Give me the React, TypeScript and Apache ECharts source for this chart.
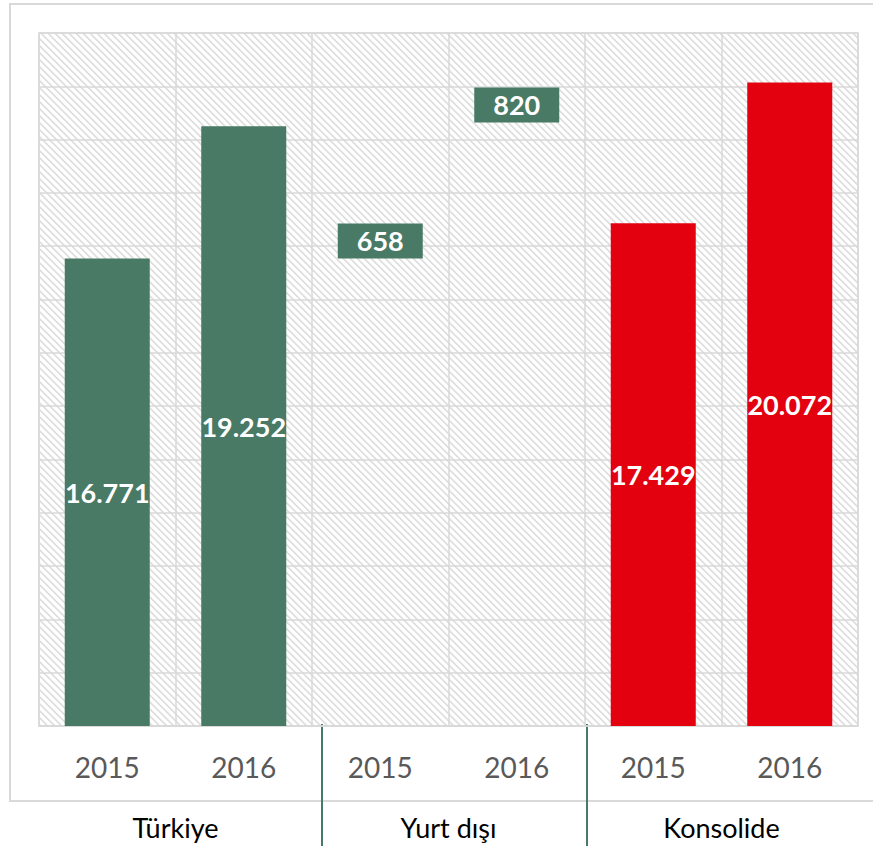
import React, { useEffect, useRef } from "react";
import * as echarts from "echarts";

const years = ["2015", "2016"];
const groups = ["Türkiye", "Yurt dışı", "Konsolide"];
const turkiye = [16771, 19252];
const yurtDisi = [658, 820];
const konsolide = [17429, 20072];
const axisMin = 8000;
const axisMax = 21000;
const axisStep = 1000;

const GREEN = "#497A65";
const RED = "#E3000F";
const GRID = "#D9D9D9";
const FONT = "Lato, 'Open Sans', sans-serif";

function fmt(v: number): string {
  return v.toLocaleString("de-DE");
}

function makeHatch(): HTMLCanvasElement {
  const n = 7;
  const c = document.createElement("canvas");
  c.width = n;
  c.height = n;
  const ctx = c.getContext("2d")!;
  const img = ctx.createImageData(n, n);
  for (let y = 0; y < n; y++) {
    for (let x = 0; x < n; x++) {
      const k = (((x - y) % n) + n) % n;
      const v = k < 2 ? 0xe0 : k === 2 ? 0xee : 0xff;
      const i = (y * n + x) * 4;
      img.data[i] = v;
      img.data[i + 1] = v;
      img.data[i + 2] = v;
      img.data[i + 3] = 255;
    }
  }
  ctx.putImageData(img, 0, 0);
  return c;
}

export default function App() {
  const ref = useRef<HTMLDivElement>(null);

  useEffect(() => {
    if (!ref.current) return;
    const chart = echarts.init(ref.current, undefined, { renderer: "svg" });

    const categories: string[] = [];
    groups.forEach(() => years.forEach((y) => categories.push(y)));

    const barData: any[] = [];
    turkiye.forEach((v) => barData.push({ value: v, itemStyle: { color: GREEN } }));
    yurtDisi.forEach(() => barData.push({ value: null }));
    konsolide.forEach((v) => barData.push({ value: v, itemStyle: { color: RED } }));

    // label anchors (vertical placement of the Yurt dışı callouts, in axis units)
    const yurtAnchors = [17100, 19650];
    const yurtLabels = yurtDisi.map((v, i) => ({
      value: [2 + i, yurtAnchors[i]],
      raw: v,
    }));

    chart.setOption({
      animation: false,
      backgroundColor: "#ffffff",
      textStyle: { fontFamily: FONT },
      grid: {
        left: 39,
        right: 15,
        top: 33,
        bottom: 120,
        show: true,
        backgroundColor: { image: makeHatch(), repeat: "repeat" } as any,
        borderColor: GRID,
        borderWidth: 1.5,
      },
      xAxis: [
        {
          type: "category",
          data: categories,
          axisLine: { show: true, lineStyle: { color: GRID, width: 1.5 } },
          axisTick: { show: false },
          splitLine: { show: true, lineStyle: { color: GRID, width: 1.5 } },
          axisLabel: {
            color: "#595959",
            fontSize: 28,
            fontFamily: FONT,
            margin: 27,
          },
        },
        {
          type: "category",
          data: groups,
          position: "bottom",
          axisLine: { show: false },
          axisTick: { show: false },
          splitLine: { show: false },
          axisLabel: {
            color: "#000000",
            fontSize: 27,
            fontFamily: FONT,
            margin: 88,
          },
        },
      ],
      yAxis: {
        type: "value",
        min: axisMin,
        max: axisMax,
        interval: axisStep,
        axisLabel: { show: false },
        axisLine: { show: false },
        axisTick: { show: false },
        splitLine: { show: true, lineStyle: { color: GRID, width: 1.5 } },
      },
      series: [
        {
          type: "bar",
          xAxisIndex: 0,
          data: barData,
          barWidth: 85,
          label: {
            show: true,
            position: "inside",
            color: "#ffffff",
            fontWeight: "bold",
            fontSize: 27,
            fontFamily: FONT,
            formatter: (p: any) => fmt(p.value),
          },
        },
        {
          type: "scatter",
          xAxisIndex: 0,
          symbolSize: 1,
          itemStyle: { color: "transparent", opacity: 1 },
          data: yurtLabels,
          label: {
            show: true,
            position: "inside",
            opacity: 1,
            formatter: (p: any) => fmt(p.data.raw),
            backgroundColor: GREEN,
            color: "#ffffff",
            fontWeight: "bold",
            fontSize: 27,
            fontFamily: FONT,
            width: 85,
            height: 35,
            lineHeight: 35,
            align: "center",
            verticalAlign: "middle",
          },
          z: 5,
        },
      ],
      graphic: [
        {
          type: "rect",
          z: -10,
          silent: true,
          shape: { x: 10, y: 4, width: 900, height: 797 },
          style: { fill: "none", stroke: GRID, lineWidth: 2 },
        },
        {
          type: "line",
          silent: true,
          shape: { x1: 322, y1: 724, x2: 322, y2: 846 },
          style: { stroke: GREEN, lineWidth: 2 },
        },
        {
          type: "line",
          silent: true,
          shape: { x1: 587, y1: 724, x2: 587, y2: 846 },
          style: { stroke: GREEN, lineWidth: 2 },
        },
      ],
    });

    return () => chart.dispose();
  }, []);

  return (
    <div
      ref={ref}
      style={{ position: "fixed", left: 0, top: 0, width: 873, height: 846 }}
    />
  );
}
